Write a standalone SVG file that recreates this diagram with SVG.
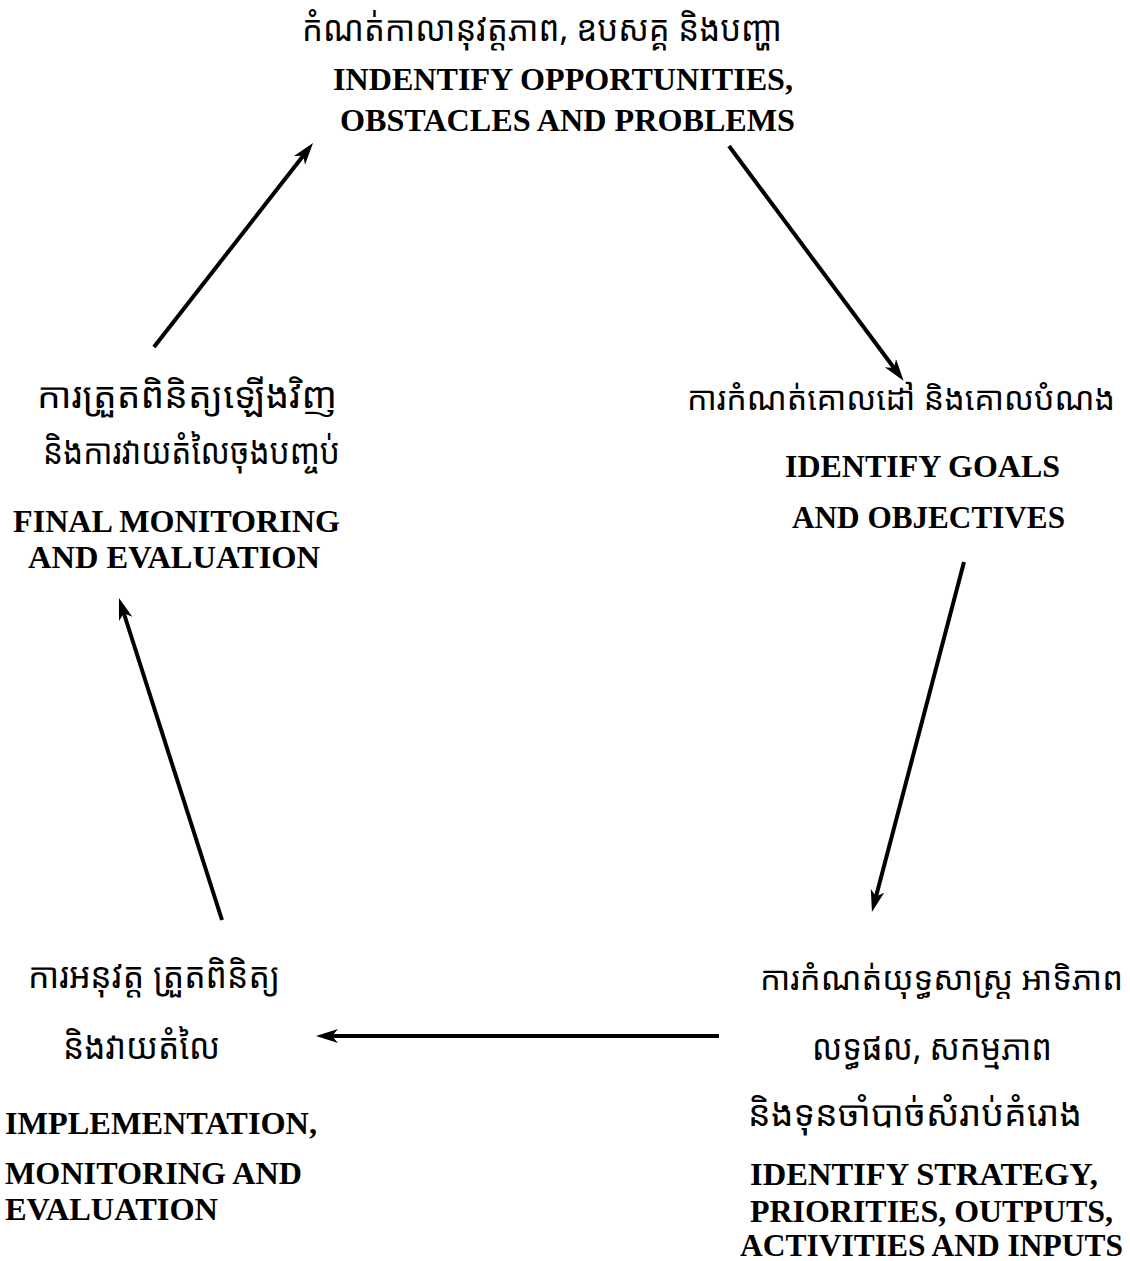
<svg xmlns="http://www.w3.org/2000/svg" width="1130" height="1261" viewBox="0 0 1130 1261">
  <style>
    .kh { font-family: "Noto Sans Khmer", "Khmer OS", "DejaVu Sans", "Noto Sans", sans-serif; font-size: 35px; fill: #000; }
    .kh.tight { font-size: 33px; }
    .en { font-family: "Liberation Serif", "Times New Roman", "DejaVu Serif", serif; font-weight: bold; font-size: 32px; fill: #000; }
    .mid { text-anchor: middle; }
    .conn { stroke: #000; stroke-width: 4; fill: none; marker-end: url(#head); }
  </style>
  <defs>
    <marker id="head" markerUnits="userSpaceOnUse" markerWidth="24" markerHeight="16" refX="12" refY="7" orient="auto">
      <path d="M0,0 L22,7 L0,14 L6,7 z" fill="#000"/>
    </marker>
  </defs>
  <rect width="1130" height="1261" fill="#fff"/>

  <g id="node-identify-opportunities">
    <text class="kh mid" x="542" y="41" textLength="480" lengthAdjust="spacingAndGlyphs">កំណត់កាលានុវត្តភាព, ឧបសគ្គ  និងបញ្ហា</text>
    <text class="en mid" x="563" y="90" textLength="460" lengthAdjust="spacingAndGlyphs">INDENTIFY OPPORTUNITIES,</text>
    <text class="en mid" x="567.5" y="131" textLength="455" lengthAdjust="spacingAndGlyphs">OBSTACLES AND PROBLEMS</text>
  </g>

  <g id="node-identify-goals">
    <text class="kh tight mid" x="901" y="410" textLength="428" lengthAdjust="spacingAndGlyphs">ការកំណត់គោលដៅ និងគោលបំណង</text>
    <text class="en mid" x="922.5" y="477" textLength="275" lengthAdjust="spacingAndGlyphs">IDENTIFY GOALS</text>
    <text class="en mid" x="928.5" y="528" textLength="273" lengthAdjust="spacingAndGlyphs">AND OBJECTIVES</text>
  </g>

  <g id="node-identify-strategy">
    <text class="kh tight mid" x="941.5" y="990" textLength="363" lengthAdjust="spacingAndGlyphs">ការកំណត់យុទ្ធសាស្ត្រ អាទិភាព</text>
    <text class="kh mid" x="932" y="1060" textLength="240" lengthAdjust="spacingAndGlyphs">លទ្ធផល, សកម្មភាព</text>
    <text class="kh mid" x="915" y="1126" textLength="334" lengthAdjust="spacingAndGlyphs">និងទុនចាំបាច់សំរាប់គំរោង</text>
    <text class="en mid" x="924" y="1185" textLength="348" lengthAdjust="spacingAndGlyphs">IDENTIFY STRATEGY,</text>
    <text class="en mid" x="931.5" y="1222" textLength="363" lengthAdjust="spacingAndGlyphs">PRIORITIES, OUTPUTS,</text>
    <text class="en mid" x="931.5" y="1256" textLength="383" lengthAdjust="spacingAndGlyphs">ACTIVITIES AND INPUTS</text>
  </g>

  <g id="node-implementation">
    <text class="kh mid" x="154" y="988" textLength="252" lengthAdjust="spacingAndGlyphs">ការអនុវត្ត ត្រួតពិនិត្យ</text>
    <text class="kh mid" x="141.5" y="1059" textLength="157" lengthAdjust="spacingAndGlyphs">និងវាយតំលៃ</text>
    <text class="en" x="5" y="1134" textLength="312" lengthAdjust="spacingAndGlyphs">IMPLEMENTATION,</text>
    <text class="en" x="5" y="1184" textLength="297" lengthAdjust="spacingAndGlyphs">MONITORING AND</text>
    <text class="en" x="5" y="1220" textLength="213" lengthAdjust="spacingAndGlyphs">EVALUATION</text>
  </g>

  <g id="node-final-monitoring">
    <text class="kh mid" x="187" y="408" textLength="300" lengthAdjust="spacingAndGlyphs">ការត្រួតពិនិត្យឡើងវិញ</text>
    <text class="kh mid" x="191.5" y="464" textLength="297" lengthAdjust="spacingAndGlyphs">និងការវាយតំលៃចុងបញ្ចប់</text>
    <text class="en mid" x="176.5" y="532" textLength="327" lengthAdjust="spacingAndGlyphs">FINAL MONITORING</text>
    <text class="en mid" x="174" y="568" textLength="292" lengthAdjust="spacingAndGlyphs">AND EVALUATION</text>
  </g>

  <g id="connectors">
    <line class="conn" x1="729" y1="146" x2="897.6" y2="372.8"/>
    <line class="conn" x1="964" y1="562" x2="874.5" y2="902.3"/>
    <line class="conn" x1="719" y1="1036" x2="326" y2="1036"/>
    <line class="conn" x1="222" y1="920" x2="122.0" y2="607.5"/>
    <line class="conn" x1="154" y1="347" x2="306.9" y2="150.9"/>
  </g>
</svg>
